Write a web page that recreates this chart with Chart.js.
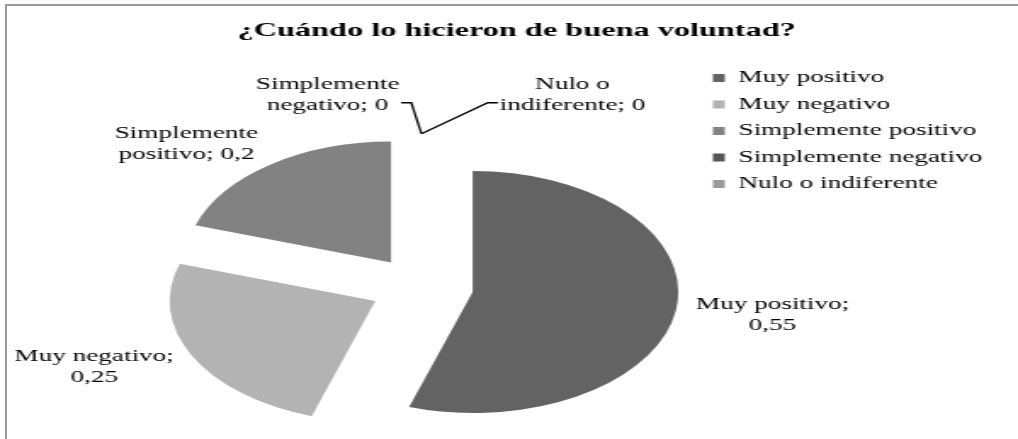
<!DOCTYPE html>
<html>
<head>
<meta charset="utf-8">
<script src="https://cdn.jsdelivr.net/npm/chart.js@4/dist/chart.umd.min.js"></script>
<style>
  body { margin: 0; overflow: hidden; background: #fff; width: 1018px; height: 439px; }
  #frame {
    position: absolute; left: 5px; top: 4px; width: 2000px; height: 2000px;
    border-left: 2px solid #9a9a9a; border-top: 2px solid #9a9a9a;
  }
  /* the source picture is stretched sideways, so the whole chart is too */
  #wrap {
    position: absolute; left: 0; top: 0; width: 599px; height: 515px;
    transform: scaleX(1.6995); transform-origin: 0 0;
  }
</style>
</head>
<body>
<div id="frame"></div>
<div id="wrap"><canvas id="chart" width="599" height="515"></canvas></div>
<script>
const title = "¿Cuándo lo hicieron de buena voluntad?";
const categories = [
  "Muy positivo",
  "Muy negativo",
  "Simplemente positivo",
  "Simplemente negativo",
  "Nulo o indiferente",
];
const values = [0.55, 0.25, 0.2, 0, 0];
const colors = ["#636363", "#b3b3b3", "#828282", "#555555", "#9a9a9a"];

const RADIUS = 121;
const EXPLODE = 122; // chart.js shifts a slice by offset / 4
const TITLE_FROM_PIE = 56; // title centre sits right of the pie centre
const serif = "'Liberation Serif', 'Times New Roman', serif";
const LABEL_FONT = `16px ${serif}`;
const LINE_H = 21;

const fmt = (v) => String(v).replace(".", ",");

const wrapLabel = (ctx, text, maxWidth) => {
  const lines = [];
  let line = "";
  text.split(" ").forEach((word) => {
    const test = line ? line + " " + word : word;
    if (line && ctx.measureText(test).width > maxWidth) {
      lines.push(line);
      line = word;
    } else {
      line = test;
    }
  });
  lines.push(line);
  return lines;
};

const sliceLabels = {
  id: "sliceLabels",
  afterLayout(chart) {
    const t = chart.titleBlock;
    const area = chart.chartArea;
    const shift = (area.left + area.right) / 2 + TITLE_FROM_PIE - (t.left + t.right) / 2;
    t.left += shift;
    t.right += shift;
  },
  afterDatasetsUpdate(chart) {
    // keep only the shift of an exploded slice, not the radius growth
    // and the narrowing chart.js adds to it
    chart.getDatasetMeta(0).data.forEach((arc) => {
      const shift = (arc.options.offset || 0) / 4;
      const grow = shift * (1 - Math.sin(Math.min(Math.PI, arc.circumference)));
      if (!grow || !arc.circumference) return;
      arc.outerRadius -= grow;
      const widen = grow / Math.PI / (arc.outerRadius + grow) / 2;
      arc.startAngle -= widen;
      arc.endAngle += widen;
    });
  },
  afterDatasetsDraw(chart) {
    const ctx = chart.ctx;
    const meta = chart.getDatasetMeta(0);
    ctx.save();
    ctx.font = LABEL_FONT;
    ctx.fillStyle = "#000";
    ctx.strokeStyle = "#000";
    ctx.lineWidth = 1.3;
    ctx.textAlign = "center";
    ctx.textBaseline = "middle";
    let zeros = 0;
    meta.data.forEach((arc, i) => {
      const lines = wrapLabel(ctx, `${categories[i]}; ${fmt(values[i])}`, 98);
      const w = Math.max(...lines.map((l) => ctx.measureText(l).width));
      const h = lines.length * LINE_H;
      const mid = (arc.startAngle + arc.endAngle) / 2;
      const dx = Math.cos(mid);
      const dy = Math.sin(mid);
      const edge = RADIUS + (arc.options.offset || 0) / 4;
      let cx, cy;
      if (values[i] === 0) {
        // empty slices get a leader line, one to each side
        const px = arc.x + dx * (edge + 2);
        const py = arc.y + dy * (edge + 2);
        const side = zeros++ === 0 ? -1 : 1;
        const ex = px + (side < 0 ? -6 : 39);
        const ey = py - 31;
        const tx = ex + side * 6;
        ctx.beginPath();
        ctx.moveTo(px, py);
        ctx.lineTo(ex, ey);
        ctx.lineTo(tx, ey);
        ctx.stroke();
        cx = tx + side * (w / 2 + 1);
        cy = ey - 7;
      } else {
        const ax = arc.x + dx * (edge + 12);
        const ay = arc.y + dy * (edge + 12);
        cx = ax + (dx >= 0 ? 1 : -1) * (w / 2);
        cy = ay + dy * h * 0.3;
      }
      lines.forEach((l, k) => {
        ctx.fillText(l, cx, cy - h / 2 + LINE_H * (k + 0.5));
      });
    });
    ctx.restore();
  },
};

new Chart(document.getElementById("chart"), {
  type: "pie",
  data: {
    labels: categories,
    datasets: [
      {
        data: values,
        backgroundColor: colors,
        borderWidth: 0,
        offset: EXPLODE,
        hoverOffset: 0,
      },
    ],
  },
  options: {
    responsive: false,
    animation: false,
    events: [],
    radius: RADIUS,
    layout: { padding: { left: 87, right: 11, top: 0, bottom: 0 } },
    plugins: {
      title: {
        display: true,
        text: title,
        color: "#000",
        font: { family: serif, size: 19, weight: "bold" },
        padding: { top: 20, bottom: 16.7 },
      },
      legend: {
        position: "right",
        align: "start",
        fullSize: false,
        labels: {
          color: "#000",
          font: { family: serif, size: 16 },
          boxWidth: 7,
          boxHeight: 8,
          padding: 10.5,
        },
      },
      tooltip: { enabled: false },
    },
  },
  plugins: [sliceLabels],
});
</script>
</body>
</html>
